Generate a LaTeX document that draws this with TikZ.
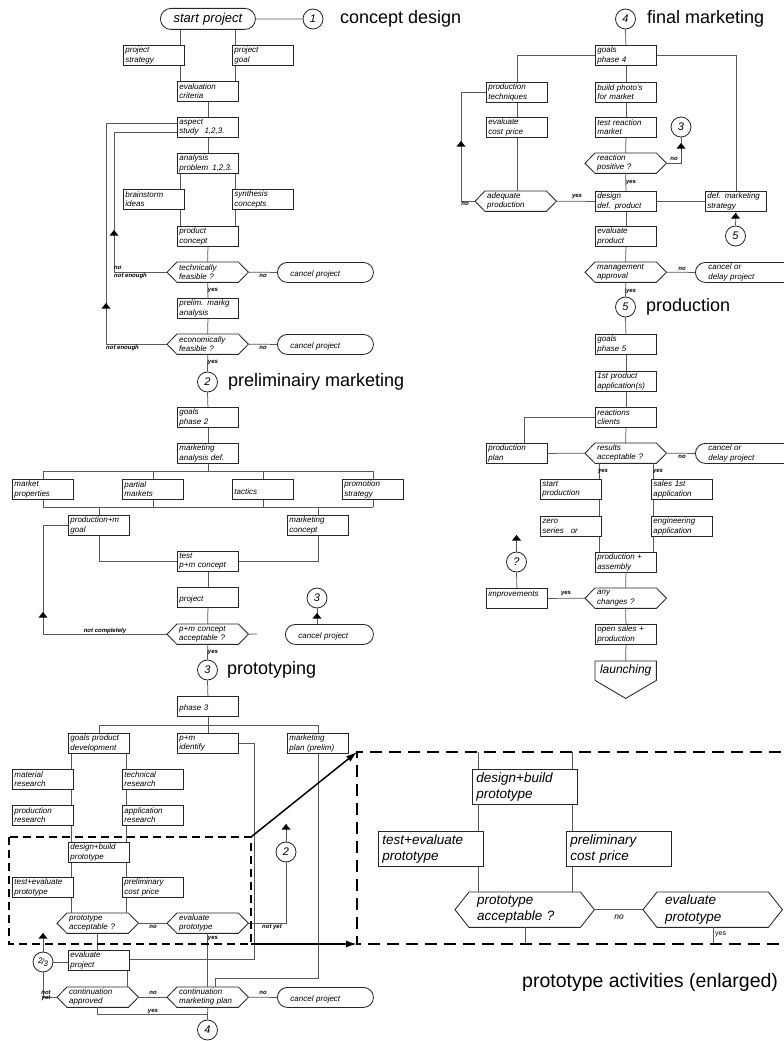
\documentclass[tikz,border=0pt]{standalone}
\usepackage{fontspec}
\setmainfont{Liberation Sans}
\usetikzlibrary{arrows.meta,calc}
\newcommand\bxfont{\fontsize{8}{9.4}\selectfont\itshape}
\newcommand\lbfont{\fontsize{6}{6}\selectfont\bfseries\itshape}
\newcommand\ttlfont{\fontsize{18}{20}\selectfont}
\newcommand\bigfont{\fontsize{13.5}{16.5}\selectfont\itshape}
\newcommand\uptri[2]{\fill[tri] (#1,#2) -- ++(-4.5,5.5) -- ++(9,0) -- cycle;}
\newcommand\hexout[2]{\draw[hexline] (#1.west) -- ([xshift=#2]#1.north west) -- ([xshift=-#2]#1.north east) -- (#1.east) -- ([xshift=-#2]#1.south east) -- ([xshift=#2]#1.south west) -- cycle;}
\tikzset{
  conn/.style={draw=black!65, line width=0.75pt},
  box/.style={draw=black!85, line width=0.85pt, fill=white, anchor=north west,
    minimum width=61pt, minimum height=20pt, text width=57pt, inner xsep=2pt,
    inner ysep=0pt, align=left, font=\bxfont},
  hexb/.style={anchor=north west, minimum width=81pt, minimum height=20pt,
    text width=57pt, inner xsep=12pt, inner ysep=0pt, align=left, font=\bxfont},
  hexline/.style={draw=black!85, line width=0.85pt},
  stad/.style={draw=black!85, line width=0.85pt, rounded corners=10pt, anchor=north west,
    minimum width=96pt, minimum height=20pt, text width=70pt, inner xsep=13pt,
    inner ysep=0pt, align=left, font=\bxfont},
  circ/.style={circle, draw=black!85, line width=0.85pt, minimum size=20pt, inner sep=0pt,
    fill=white, font=\fontsize{11}{11}\selectfont\itshape},
  ttl/.style={anchor=west, inner sep=0pt, font=\ttlfont},
  lab/.style={inner sep=0pt, font=\lbfont},
  tri/.style={fill=black},
  dashsmall/.style={draw=black, line width=1.6pt, dash pattern=on 8pt off 5pt},
  dashbig/.style={draw=black, line width=1.8pt, dash pattern=on 12pt off 7pt},
  bigarr/.style={draw=black, line width=1.5pt, -{Latex[length=11pt,width=7pt]}},
  ebox/.style={box, minimum width=105pt, minimum height=35pt, text width=97pt, inner xsep=4pt, font=\bigfont},
  ehex/.style={hexb, minimum width=139pt, minimum height=35pt, text width=95pt, inner xsep=22pt, font=\bigfont},
}
\begin{document}
\begin{tikzpicture}[x=1pt,y=-1pt]
\useasboundingbox (0,0) rectangle (784,1041);
\clip (0,0) rectangle (784,1041);
% ================= phase 1
\node[stad, minimum width=95pt, minimum height=21pt, rounded corners=10.5pt, text width=85pt, inner xsep=5pt, align=center, font=\fontsize{13}{13}\selectfont\itshape] (start) at (160,8) {start project};
\node[circ] (c1) at (313,19) {1};
\node[ttl] (t1) at (340,19) {concept design};
\node[box] (pstrat) at (123,45) {project\\strategy};
\node[box] (pgoal) at (232,45) {project\\goal};
\node[box] (evalc) at (177,81) {evaluation\\criteria};
\node[box] (aspect) at (177,117) {aspect\\study\hspace{6pt}1,2,3.};
\node[box] (analysis) at (177,153) {analysis\\problem\hspace{4pt}1,2,3.};
\node[box] (brain) at (123,189) {brainstorm\\ideas};
\node[box] (synth) at (232,189) {synthesis\\concepts};
\node[box] (pconcept) at (177,226) {product\\concept};
\node[hexb] (techf) at (167,262) {technically\\feasible ?};
\node[stad] (cancel1) at (277,262) {\mbox{}\\cancel project};
\node[box] (prelim) at (177,298) {prelim. markg\\analysis};
\node[hexb] (econf) at (167,334) {economically\\feasible ?};
\node[stad] (cancel2) at (277,334) {\mbox{}\\cancel project};
% ================= phase 2
\node[circ] (c2) at (207.5,382) {2};
\node[ttl] (t2) at (228,382) {preliminairy marketing};
\node[box] (goals2) at (177,407) {goals\\phase 2};
\node[box] (mad) at (177,443) {marketing\\analysis def.};
\node[box] (mprop) at (12,479) {market\\properties};
\node[box] (pmark) at (122,479) {partial\\markets};
\node[box] (tactics) at (232,479) {\mbox{}\\tactics};
\node[box] (promo) at (342,479) {promotion\\strategy};
\node[box] (pmgoal) at (68,515) {production+m\\goal};
\node[box] (mconcept) at (287,515) {marketing\\concept};
\node[box] (testpm) at (177,551) {test\\p+m concept};
\node[box] (project) at (177,587) {\mbox{}\\project};
\node[hexb] (pmacc) at (167,624) {p+m concept\\acceptable ?};
\node[stad, minimum width=88pt, text width=62pt] (cancel3) at (285,624) {\mbox{}\\cancel project};
\node[circ] (c3a) at (317,598) {3};
% ================= phase 3
\node[circ] (c3) at (207.5,670) {3};
\node[ttl] (t3) at (227,670) {prototyping};
\node[box] (phase3) at (177,696) {\mbox{}\\phase 3};
\node[box] (gpd) at (68,733) {goals product\\development};
\node[box] (pmid) at (177,733) {p+m\\identify};
\node[box] (mplan) at (287,733) {marketing\\plan (prelim)};
\node[box] (matres) at (12,769) {material\\research};
\node[box] (techres) at (122,769) {technical\\research};
\node[box] (prodres) at (12,805) {production\\research};
\node[box] (appres) at (122,805) {application\\research};
\node[box] (dbp) at (68,842) {design+build\\prototype};
\node[box] (tep) at (12,877) {test+evaluate\\prototype};
\node[box] (pcp) at (122,877) {preliminary\\cost price};
\node[hexb] (proacc) at (57,913) {prototype\\acceptable ?};
\node[hexb] (evproto) at (167,913) {evaluate\\prototype};
\node[circ] (c2b) at (286,852) {2};
\node[box] (evproj) at (68,950) {evaluate\\project};
\node[circ] (c23) at (43,962) {{\fontsize{8}{8}\selectfont\raisebox{1.5pt}{2}\kern-.6pt/\kern-.6pt\raisebox{-1.5pt}{3}}};
\node[hexb] (contapp) at (57,987) {continuation\\approved};
\node[hexb] (contmp) at (167,987) {continuation\\marketing plan};
\node[stad] (cancel4) at (277,987) {\mbox{}\\cancel project};
\node[circ] (c4b) at (207.5,1030) {4};
% ================= phase 4
\node[circ] (c4) at (625.5,19) {4};
\node[ttl] (t4) at (647,19) {final marketing};
\node[box] (goals4) at (595,45) {goals\\phase 4};
\node[box] (prodtech) at (486,82) {production\\techniques};
\node[box] (photo) at (595,82) {build photo's\\for market};
\node[box] (evcost) at (486,117) {evaluate\\cost price};
\node[box] (testreact) at (595,117) {test reaction\\market};
\node[circ] (c3r) at (681,127) {3};
\node[hexb] (reactpos) at (585,153) {reaction\\positive ?};
\node[hexb] (adeq) at (475,191) {adequate\\production};
\node[box] (design) at (595,191) {design\\def. product};
\node[box] (defmark) at (705,191) {def. marketing\\strategy};
\node[circ] (c5r) at (735.5,236) {5};
\node[box] (evprod) at (595,226) {evaluate\\product};
\node[hexb] (mgmt) at (585,262) {management\\approval};
\node[stad, minimum width=115pt, text width=89pt] (cancel5) at (695,262) {cancel or\\delay project};
% ================= phase 5
\node[circ] (c5) at (625.5,307) {5};
\node[ttl] (t5) at (646,307) {production};
\node[box] (goals5) at (595,334) {goals\\phase 5};
\node[box] (firstprod) at (595,371) {1st product\\application(s)};
\node[box] (reactions) at (595,407) {reactions\\clients};
\node[box] (prodplan) at (486,443) {production\\plan};
\node[hexb] (results) at (585,443) {results\\acceptable ?};
\node[stad, minimum width=115pt, text width=89pt] (cancel6) at (695,443) {cancel or\\delay project};
\node[box] (startprod) at (540,479) {start\\production};
\node[box] (sales) at (651,479) {sales 1st\\application};
\node[box] (zero) at (540,516) {zero\\series\hspace{7pt}or};
\node[box] (eng) at (651,516) {engineering\\application};
\node[box] (prodass) at (595,552) {production +\\assembly};
\node[hexb] (anych) at (585,588) {any\\changes ?};
\node[box] (improv) at (486,588) {improvements\\\mbox{}};
\node[circ] (cq) at (516.5,562) {?};
\node[box] (opensales) at (595,624) {open sales +\\production};
\node[anchor=north west, minimum width=61pt, minimum height=19pt, inner sep=0pt, font=\fontsize{12}{12}\selectfont\itshape] (launch) at (595,661) {launching};
\draw[hexline] (launch.north west) -- (launch.north east) -- (launch.south east) -- ($(launch.south)+(0,18)$) -- (launch.south west) -- cycle;
% hexagon outlines
\foreach \h in {techf,econf,pmacc,proacc,evproto,contapp,contmp,reactpos,adeq,mgmt,results,anych} {\hexout{\h}{10pt}}
% ================= connectors phase 1
\coordinate (xa) at (180,0); \coordinate (xb) at (235,0);
\coordinate (ya1) at (0,123); \coordinate (ya2) at (0,132);
\coordinate (xl1) at (114,0); \coordinate (xl2) at (106,0);
\draw[conn] (start.east) -- (c1.west);
\draw[conn] (xa |- start.south) -- (xa |- pstrat.north);
\draw[conn] (xb |- start.south) -- (xb |- pgoal.north);
\draw[conn] (xa |- pstrat.south) -- (xa |- evalc.north);
\draw[conn] (xb |- pgoal.south) -- (xb |- evalc.north);
\draw[conn] (evalc.south) -- (aspect.north);
\draw[conn] (aspect.south) -- (analysis.north);
\draw[conn] (techf.west) -- (xl1 |- techf.west) -- (xl1 |- ya2) -- (ya2 -| aspect.west);
\draw[conn] (econf.west) -- (xl2 |- econf.west) -- (xl2 |- ya1) -- (ya1 -| aspect.west);
\uptri{114}{230}
\uptri{106}{303}
\draw[conn] (xa |- analysis.south) -- (xa |- brain.north);
\draw[conn] (xb |- analysis.south) -- (xb |- synth.north);
\draw[conn] (xa |- brain.south) -- (xa |- pconcept.north);
\draw[conn] (xb |- synth.south) -- (xb |- pconcept.north);
\draw[conn] (pconcept.south) -- (techf.north);
\draw[conn] (techf.east) -- (cancel1.west);
\draw[conn] (techf.south) -- (prelim.north);
\draw[conn] (prelim.south) -- (econf.north);
\draw[conn] (econf.east) -- (cancel2.west);
\draw[conn] (econf.south) -- (c2.north);
% ================= connectors phase 2
\coordinate (yb1) at (0,471); \coordinate (yb2) at (0,507);
\draw[conn] (c2.south) -- (goals2.north);
\draw[conn] (goals2.south) -- (mad.north);
\draw[conn] (mad.south) -- (mad.south |- yb1);
\draw[conn] (mprop.north |- yb1) -- (promo.north |- yb1);
\draw[conn] (mprop.south |- yb2) -- (promo.south |- yb2);
\foreach \n in {mprop,pmark,tactics,promo} {
  \draw[conn] (\n.north |- yb1) -- (\n.north);
  \draw[conn] (\n.south) -- (\n.south |- yb2);
}
\draw[conn] (pmgoal.north |- yb2) -- (pmgoal.north);
\draw[conn] (mconcept.north |- yb2) -- (mconcept.north);
\draw[conn] (pmgoal.south) |- (testpm.west);
\draw[conn] (mconcept.south) |- (testpm.east);
\draw[conn] (testpm.south) -- (project.north);
\draw[conn] (project.south) -- (pmacc.north);
\coordinate (xm) at (43,0);
\draw[conn] (pmacc.west) -- (xm |- pmacc.west) -- (xm |- pmgoal.west) -- (pmgoal.west);
\uptri{43}{612}
\coordinate (stub) at (257,634);
\draw[conn] (pmacc.east) -- (stub);
\draw[conn] (c3a.south) -- (c3a.south |- cancel3.north);
\uptri{317}{613}
\draw[conn] (pmacc.south) -- (c3.north);
% ================= connectors phase 3
\coordinate (yd) at (0,725);
\draw[conn] (c3.south) -- (phase3.north);
\draw[conn] (phase3.south) -- (phase3.south |- yd);
\draw[conn] (gpd.north |- yd) -- (mplan.north |- yd);
\foreach \n in {gpd,pmid,mplan} {\draw[conn] (\n.north |- yd) -- (\n.north);}
\coordinate (xe) at (254,0); \coordinate (ye) at (0,959);
\draw[conn] (pmid.east) -- (xe |- pmid.east) -- (xe |- ye) -- (ye -| evproj.east);
\coordinate (yf) at (0,978); \coordinate (xf) at (215,0);
\draw[conn] (mplan.south) -- (mplan.south |- yf) -- (xf |- yf) -- (xf |- contmp.north);
\coordinate (xg) at (71,0); \coordinate (xh) at (126,0);
\draw[conn] (xg |- gpd.south) -- (xg |- matres.north);
\draw[conn] (xh |- gpd.south) -- (xh |- techres.north);
\draw[conn] (xg |- matres.south) -- (xg |- prodres.north);
\draw[conn] (xh |- techres.south) -- (xh |- appres.north);
\draw[conn] (xg |- prodres.south) -- (xg |- dbp.north);
\draw[conn] (xh |- appres.south) -- (xh |- dbp.north);
\draw[conn] (xg |- dbp.south) -- (xg |- tep.north);
\draw[conn] (xg |- tep.south) -- (xg |- proacc.north);
\draw[conn] (xh |- dbp.south) -- (xh |- pcp.north);
\draw[conn] (xh |- pcp.south) -- (xh |- proacc.north);
\draw[conn] (proacc.east) -- (evproto.west);
\coordinate (xi) at (286,0);
\draw[conn] (evproto.east) -- (xi |- evproto.east) -- (c2b.south);
\coordinate (a2b) at (286,824);
\draw[conn] (c2b.north) -- (a2b);
\uptri{286}{824}
\draw[conn] (evproto.south) -- (contmp.north);
\draw[conn] (proacc.south) -- (proacc.south |- evproj.north);
\draw[conn] (c23.east) -- (c23.east -| evproj.west);
\coordinate (a23) at (43,933);
\draw[conn] (c23.north) -- (a23);
\uptri{43}{933}
\draw[conn] (contapp.west) -| (c23.south);
\coordinate (xk) at (127,0);
\draw[conn] (xk |- evproj.south) -- (xk |- contapp.north);
\draw[conn] (contapp.east) -- (contmp.west);
\draw[conn] (contmp.east) -- (cancel4.west);
\coordinate (yl) at (0,1014);
\draw[conn] (contapp.south) -- (contapp.south |- yl) -- (c4b.north |- yl);
\draw[conn] (contmp.south) -- (c4b.north);
% ================= connectors phase 4
\draw[conn] (c4.south) -- (goals4.north);
\draw[conn] (goals4.west) -| (prodtech.north);
\draw[conn] (goals4.east) -| (defmark.north);
\draw[conn] (goals4.south) -- (photo.north);
\draw[conn] (photo.south) -- (testreact.north);
\draw[conn] (testreact.south) -- (reactpos.north);
\draw[conn] (prodtech.south) -- (evcost.north);
\draw[conn] (evcost.south) -- (evcost.south |- adeq.north);
\draw[conn] (reactpos.east) -| (c3r.south);
\uptri{681}{143}
\draw[conn] (reactpos.south) -- (design.north);
\draw[conn] (adeq.east) -- (design.west);
\coordinate (xn) at (461,0);
\draw[conn] (adeq.west) -- (xn |- adeq.west) -- (xn |- prodtech.west) -- (prodtech.west);
\uptri{461}{141}
\draw[conn] (design.east) -- (defmark.west);
\draw[conn] (c5r.north) -- (defmark.south);
\uptri{735.5}{213}
\draw[conn] (design.south) -- (evprod.north);
\draw[conn] (evprod.south) -- (mgmt.north);
\draw[conn] (mgmt.east) -- (cancel5.west);
\draw[conn] (mgmt.south) -- (c5.north);
% ================= connectors phase 5
\draw[conn] (c5.south) -- (goals5.north);
\draw[conn] (goals5.south) -- (firstprod.north);
\draw[conn] (firstprod.south) -- (reactions.north);
\draw[conn] (reactions.south) -- (results.north);
\coordinate (xo) at (524,0);
\draw[conn] (reactions.west) -- (xo |- reactions.west) -- (xo |- prodplan.north);
\draw[conn] (prodplan.east) -- (results.west);
\draw[conn] (results.east) -- (cancel6.west);
\coordinate (xp) at (599,0); \coordinate (xq) at (653,0);
\draw[conn] (xp |- results.south) -- (xp |- startprod.north);
\draw[conn] (xq |- results.south) -- (xq |- sales.north);
\draw[conn] (xp |- startprod.south) -- (xp |- zero.north);
\draw[conn] (xp |- zero.south) -- (xp |- prodass.north);
\draw[conn] (xq |- sales.south) -- (xq |- eng.north);
\draw[conn] (xq |- eng.south) -- (xq |- prodass.north);
\draw[conn] (prodass.south) -- (anych.north);
\draw[conn] (anych.west) -- (improv.east);
\draw[conn] (improv.north) -- (cq.south);
\coordinate (aq) at (516.5,535);
\draw[conn] (cq.north) -- (aq);
\uptri{516.5}{535}
\draw[conn] (anych.south) -- (opensales.north);
\draw[conn] (opensales.south) -- (launch.north);
% ================= labels
\node[lab, anchor=west] (l1) at (114,268) {no};
\node[lab, anchor=west] (l2) at (114,275.5) {not enough};
\node[lab] (l3) at (263,276) {no};
\node[lab] (l4) at (213,291) {yes};
\node[lab, anchor=west] (l5) at (106,347.5) {not enough};
\node[lab] (l6) at (263,348) {no};
\node[lab] (l7) at (213,363) {yes};
\node[lab] (l8) at (105,631) {not completely};
\node[lab] (l9) at (213,653) {yes};
\node[lab] (l10) at (153,927) {no};
\node[lab] (l11) at (272,927) {not yet};
\node[lab] (l12) at (213,938) {yes};
\node[lab] (l13) at (46,993) {not};
\node[lab] (l14) at (46,998.5) {yet};
\node[lab] (l15) at (153,993) {no};
\node[lab] (l16) at (263,993) {no};
\node[lab] (l17) at (153,1011) {yes};
\node[lab] (l18) at (674,159) {no};
\node[lab] (l19) at (631,183) {yes};
\node[lab] (l20) at (577,197) {yes};
\node[lab] (l21) at (465,204) {no};
\node[lab] (l22) at (682,268.5) {no};
\node[lab] (l23) at (631,292) {yes};
\node[lab] (l24) at (682,457) {no};
\node[lab] (l25) at (603,472) {yes};
\node[lab] (l26) at (658,472) {yes};
\node[lab] (l27) at (566,594) {yes};
% ================= enlarged view
\coordinate (ebtl) at (357,752); \coordinate (ebbl) at (357,944);
\coordinate (ebtr) at (800,752); \coordinate (ebbr) at (800,944);
\node[ebox] (Edbp) at (472,769) {design+build\\prototype};
\node[ebox] (Etep) at (378,831) {test+evaluate\\prototype};
\node[ebox] (Epcp) at (566,831) {preliminary\\cost price};
\node[ehex] (Eproacc) at (455,892) {prototype\\acceptable ?};
\node[ehex] (Eevproto) at (643,892) {evaluate\\prototype};
\hexout{Eproacc}{14pt}
\hexout{Eevproto}{14pt}
\coordinate (xr) at (478,0); \coordinate (xs) at (572,0);
\coordinate (xt) at (525,0); \coordinate (xu) at (713,0);
\draw[conn] (xr |- ebtl) -- (xr |- Edbp.north);
\draw[conn] (xs |- ebtl) -- (xs |- Edbp.north);
\draw[conn] (xr |- Edbp.south) -- (xr |- Etep.north);
\draw[conn] (xs |- Edbp.south) -- (xs |- Epcp.north);
\draw[conn] (xr |- Etep.south) -- (xr |- Eproacc.north);
\draw[conn] (xs |- Epcp.south) -- (xs |- Eproacc.north);
\draw[conn] (Eproacc.east) -- (Eevproto.west);
\draw[conn] (xt |- Eproacc.south) -- (xt |- ebbl);
\draw[conn] (xu |- Eevproto.south) -- (xu |- ebbl);
\node[inner sep=0pt, font=\fontsize{8.5}{8.5}\selectfont\itshape] (Eno) at (619,917) {no};
\node[inner sep=0pt, anchor=west, font=\fontsize{7}{7}\selectfont] (Eyes) at (715,934) {yes};
\draw[dashbig] (ebtr) -- (ebtl) -- (ebbl) -- (ebbr);
\coordinate (sbtl) at (9,837); \coordinate (sbtr) at (251,837);
\coordinate (sbbr) at (251,944);
\draw[dashsmall] (sbtl) rectangle (sbbr);
\draw[bigarr] (sbtr) -- (ebtl);
\draw[bigarr] (sbbr) -- (ebbl);
\node[ttl, font=\fontsize{19.5}{21}\selectfont] (t6) at (522,982) {prototype activities (enlarged)};
\end{tikzpicture}
\end{document}
